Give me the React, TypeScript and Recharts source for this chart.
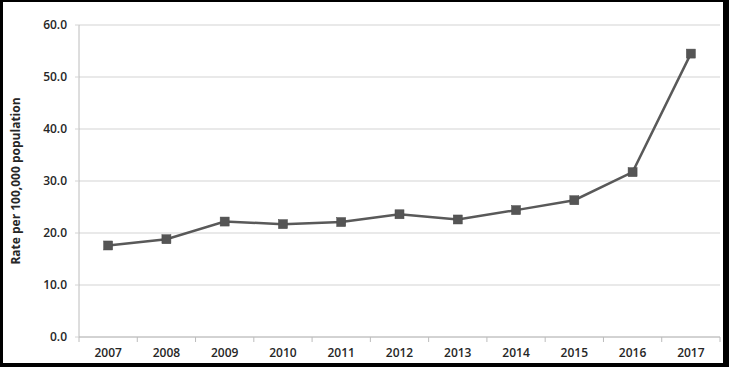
import React from 'react';
import { LineChart, Line, XAxis, YAxis, CartesianGrid } from 'recharts';

const years = ['2007', '2008', '2009', '2010', '2011', '2012', '2013', '2014', '2015', '2016', '2017'];
const rates = [17.6, 18.8, 22.2, 21.7, 22.1, 23.6, 22.6, 24.4, 26.3, 31.7, 54.5];
const yTicks = [0, 10, 20, 30, 40, 50, 60];

const data = years.map((year, i) => ({ year, rate: rates[i] }));

const CHART_W = 720;
const CHART_H = 361;
const MARGIN = { top: 23, right: 3, bottom: 0, left: 0 };
const Y_AXIS_W = 76;
const PLOT_W = CHART_W - MARGIN.left - MARGIN.right - Y_AXIS_W;
const HALF_BAND = PLOT_W / years.length / 2;

const FONT = '"Open Sans", "Liberation Sans", sans-serif';
const GRID = '#d4d4d4';
const AXIS = '#bcbcbc';
const INK = '#262626';
const LINE = '#595959';

// category ticks sit at band boundaries, labels at band centres
const YearTick = (props: any) => {
  const { x, y, payload, index } = props;
  const axisY = y - 11;
  return (
    <g>
      <line x1={x - HALF_BAND} y1={axisY} x2={x - HALF_BAND} y2={axisY + 5} stroke={AXIS} />
      {index === years.length - 1 && (
        <line x1={x + HALF_BAND} y1={axisY} x2={x + HALF_BAND} y2={axisY + 5} stroke={AXIS} />
      )}
      <text x={x} y={y} dy="0.71em" textAnchor="middle" fill={INK} fontSize={12} fontWeight={600} fontFamily={FONT}>
        {payload.value}
      </text>
    </g>
  );
};

const SquareDot = (props: any) => {
  const { cx, cy, index } = props;
  if (cx == null || cy == null) return null;
  return <rect key={`dot-${index}`} x={cx - 4.5} y={cy - 4.5} width={9} height={9} fill="#555555" stroke="#4a4a4a" strokeWidth={0.5} />;
};

export default function App() {
  return (
    <div style={{ position: 'absolute', left: 0, top: 0, width: 729, height: 367, background: '#000' }}>
      <div style={{ position: 'absolute', left: 3, top: 2, width: CHART_W, height: CHART_H, background: '#fff' }}>
        <LineChart width={CHART_W} height={CHART_H} data={data} margin={MARGIN}>
          <CartesianGrid vertical={false} stroke={GRID} strokeWidth={1.2} />
          <XAxis
            dataKey="year"
            height={26}
            padding={{ left: HALF_BAND, right: HALF_BAND }}
            stroke={AXIS}
            tickLine={false}
            tickSize={5}
            tickMargin={6}
            tick={<YearTick />}
            interval={0}
          />
          <YAxis
            width={Y_AXIS_W}
            domain={[0, 60]}
            ticks={yTicks}
            tickFormatter={(v: number) => v.toFixed(1)}
            stroke={AXIS}
            tickLine={{ stroke: GRID }}
            tickSize={4}
            tickMargin={8}
            tick={{ fill: INK, fontSize: 12, fontWeight: 600, fontFamily: FONT }}
            label={{
              value: 'Rate per 100,000 population',
              angle: -90,
              position: 'insideLeft',
              offset: 13,
              style: { textAnchor: 'middle', fill: INK, fontSize: 12, fontWeight: 700, fontFamily: FONT },
            }}
          />
          <Line
            type="linear"
            dataKey="rate"
            stroke={LINE}
            strokeWidth={2.5}
            dot={<SquareDot />}
            activeDot={false}
            isAnimationActive={false}
          />
        </LineChart>
      </div>
    </div>
  );
}
